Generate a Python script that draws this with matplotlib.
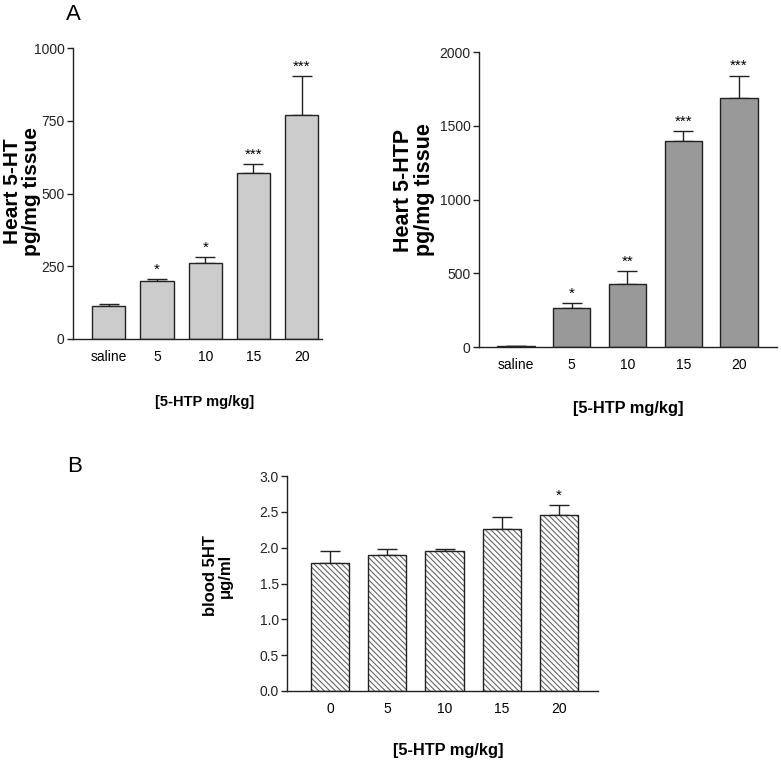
import matplotlib.pyplot as plt
import numpy as np

plt.rcParams['font.family'] = ['Liberation Sans', 'DejaVu Sans']
plt.rcParams['hatch.linewidth'] = 0.8

# panel A left: heart 5-HT
ht_cats = ['saline', '5', '10', '15', '20']
ht_vals = [112, 198, 260, 570, 770]
ht_err = [8, 8, 23, 30, 135]
ht_stars = ['', '*', '*', '***', '***']

# panel A right: heart 5-HTP
htp_cats = ['saline', '5', '10', '15', '20']
htp_vals = [5, 264, 425, 1397, 1686]
htp_err = [2, 34, 88, 67, 154]
htp_stars = ['', '*', '**', '***', '***']

# panel B: blood 5HT
bl_cats = ['0', '5', '10', '15', '20']
bl_vals = [1.785, 1.90, 1.96, 2.258, 2.453]
bl_err = [0.172, 0.075, 0.025, 0.176, 0.147]
bl_stars = ['', '', '', '', '*']

W, H = 781, 763
fig = plt.figure(figsize=(W / 100, H / 100), dpi=100)


def box(x0, y0, x1, y1):
    return [x0 / W, 1 - y1 / H, (x1 - x0) / W, (y1 - y0) / H]


def panel(rect, cats, vals, err, stars, ylim, yticks, xlim, width,
          color, hatch=None, fmt=None, star_gap=0.0):
    ax = fig.add_axes(rect)
    x = np.arange(len(cats))
    if hatch:
        ax.bar(x, vals, width=width, color='white', edgecolor='#666666',
               hatch=hatch, linewidth=0, zorder=2)
        ax.bar(x, vals, width=width, color='none', edgecolor='#222222',
               linewidth=1.0, zorder=3)
    else:
        ax.bar(x, vals, width=width, color=color, edgecolor='#222222',
               linewidth=1.0, zorder=2)
    ax.errorbar(x, vals, yerr=[np.zeros(len(vals)), err], fmt='none',
                ecolor='#222222', elinewidth=1.0, capsize=7, capthick=1.0,
                zorder=1)
    for xi, v, e, s in zip(x, vals, err, stars):
        if s:
            ax.text(xi, v + e + star_gap, s, ha='center', va='bottom',
                    fontsize=11)
    ax.set_xlim(*xlim)
    ax.set_ylim(*ylim)
    ax.set_yticks(yticks)
    if fmt:
        ax.set_yticklabels([fmt.format(t) for t in yticks])
    ax.set_xticks(x)
    ax.set_xticklabels(cats)
    ax.tick_params(axis='x', length=0, pad=8, labelsize=10)
    ax.tick_params(axis='y', length=4, width=1, labelsize=10, pad=2,
                   colors='#222222')
    for s in ['top', 'right']:
        ax.spines[s].set_visible(False)
    for s in ['left', 'bottom']:
        ax.spines[s].set_color('#222222')
        ax.spines[s].set_linewidth(1.0)
    return ax


panel(box(73, 48, 322, 339), ht_cats, ht_vals, ht_err, ht_stars,
      (0, 1000), [0, 250, 500, 750, 1000], (-0.74, 4.42), 0.69,
      '#cccccc', star_gap=8)
panel(box(479, 52, 777, 347), htp_cats, htp_vals, htp_err, htp_stars,
      (0, 2000), [0, 500, 1000, 1500, 2000], (-0.66, 4.68), 0.67,
      '#999999', star_gap=18)
panel(box(287, 476, 598, 691), bl_cats, bl_vals, bl_err, bl_stars,
      (0, 3.0), [0, 0.5, 1.0, 1.5, 2.0, 2.5, 3.0], (-0.75, 4.68), 0.67,
      'white', hatch='\\\\\\\\\\\\', fmt='{:.1f}', star_gap=0.03)

lab = dict(rotation=90, ha='center', va='center', fontweight='bold',
           multialignment='center', linespacing=1.0)
fig.text(22 / W, 1 - 191 / H, 'Heart 5-HT\npg/mg tissue', fontsize=15, **lab)
fig.text(414 / W, 1 - 190 / H, 'Heart 5-HTP\npg/mg tissue', fontsize=15.5,
         **lab)
fig.text(218 / W, 1 - 576 / H, 'blood 5HT\nμg/ml', fontsize=12, **lab)

xl = dict(ha='center', va='center', fontweight='bold')
fig.text(205 / W, 1 - 402 / H, '[5-HTP mg/kg]', fontsize=10.5, **xl)
fig.text(628 / W, 1 - 408 / H, '[5-HTP mg/kg]', fontsize=11.8, **xl)
fig.text(448 / W, 1 - 750 / H, '[5-HTP mg/kg]', fontsize=11.8, **xl)

fig.text(73 / W, 1 - 14 / H, 'A', ha='center', va='center', fontsize=16)
fig.text(75 / W, 1 - 466 / H, 'B', ha='center', va='center', fontsize=16)

fig.savefig('out.png', dpi=100)
